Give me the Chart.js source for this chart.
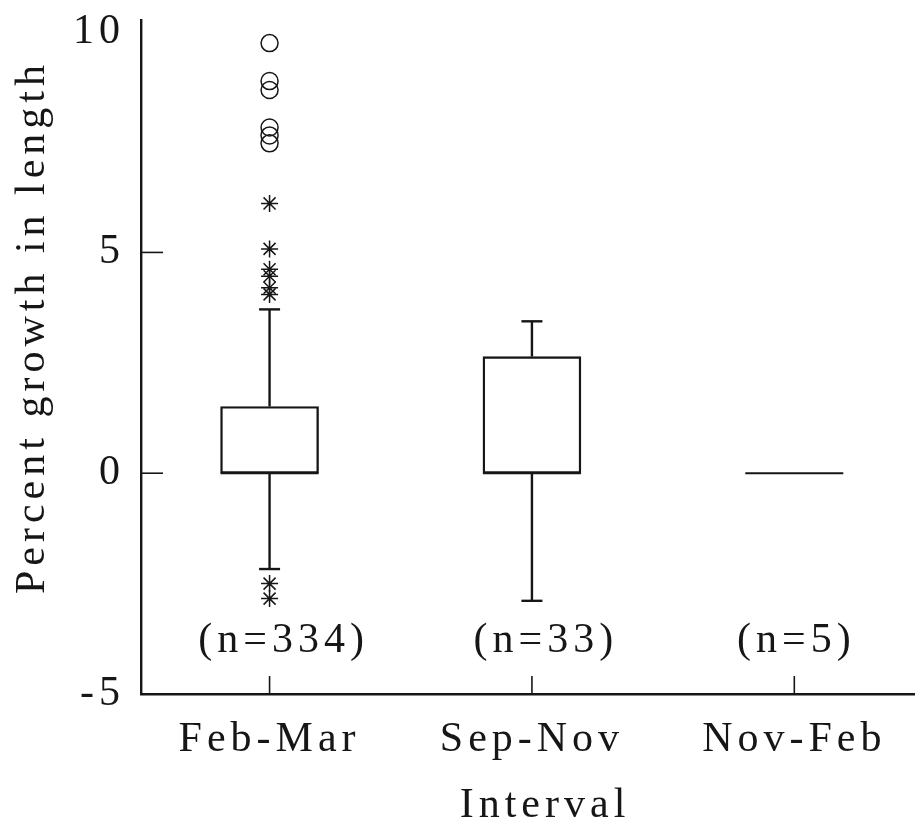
<!DOCTYPE html>
<html lang="en">
<head>
    <meta charset="UTF-8">
    <title>Percent growth in length by interval</title>
    <script src="https://cdn.jsdelivr.net/npm/chart.js"></script>
    <style>
        html, body {
            margin: 0;
            padding: 0;
            background: #ffffff;
            overflow: hidden;
        }
        .chart-container {
            position: relative;
            width: 915px;
            height: 829px;
        }
    </style>
</head>
<body>
    <div class="chart-container">
        <canvas id="growthChart"></canvas>
    </div>
    <script>
        // Categories and sample sizes
        const intervals = ['Feb-Mar', 'Sep-Nov', 'Nov-Feb'];
        const sampleSizes = [334, 33, 5];

        // Box plot statistics (percent growth in length)
        const lowerWhisker = [-2.17, -2.89, 0];
        const lowerQuartile = [0, 0, 0];
        const medians = [0, 0, 0];
        const upperQuartile = [1.51, 2.64, 0];
        const upperWhisker = [3.71, 3.44, 0];

        // Outliers (stars) and extreme values (circles), only in Feb-Mar
        const outliersFebMar = [6.11, 5.08, 4.62, 4.46, 4.20, 4.05, -2.50, -2.84];
        const extremesFebMar = [9.74, 8.88, 8.68, 7.83, 7.65, 7.47];

        const yTicks = [-5, 0, 5, 10];

        const ink = '#161616';
        const serif = { family: "'Liberation Serif', 'Times New Roman', serif", size: 42 };

        // Whiskers, medians, inner tick marks, n labels and axis titles
        const boxPlotExtras = {
            id: 'boxPlotExtras',
            beforeDraw(chart) {
                chart.ctx.letterSpacing = '5px';
            },
            afterDatasetsDraw(chart, args, opts) {
                const { ctx, chartArea, scales: { x, y } } = chart;
                ctx.save();
                ctx.strokeStyle = ink;
                ctx.lineCap = 'butt';

                const seg = (x1, y1, x2, y2, w) => {
                    ctx.lineWidth = w;
                    ctx.beginPath();
                    ctx.moveTo(x1, y1);
                    ctx.lineTo(x2, y2);
                    ctx.stroke();
                };

                intervals.forEach((name, i) => {
                    const cx = x.getPixelForValue(i + 1);
                    const half = opts.boxWidth / 2;
                    const cap = opts.capWidth / 2;

                    if (upperWhisker[i] > upperQuartile[i]) {
                        const yq = y.getPixelForValue(upperQuartile[i]);
                        const yw = y.getPixelForValue(upperWhisker[i]);
                        seg(cx, yq, cx, yw, 2.4);
                        seg(cx - cap, yw, cx + cap, yw, 2.4);
                    }
                    if (lowerWhisker[i] < lowerQuartile[i]) {
                        const yq = y.getPixelForValue(lowerQuartile[i]);
                        const yw = y.getPixelForValue(lowerWhisker[i]);
                        seg(cx, yq, cx, yw, 2.4);
                        seg(cx - cap, yw, cx + cap, yw, 2.4);
                    }
                    const ym = y.getPixelForValue(medians[i]);
                    seg(cx - half, ym, cx + half, ym, 2);

                    // x tick marks point up into the plot
                    seg(cx, chartArea.bottom, cx, chartArea.bottom - opts.xTickLength, 1.6);
                });

                // y tick marks point right into the plot
                yTicks.slice(1, -1).forEach(v => {
                    const py = y.getPixelForValue(v);
                    seg(chartArea.left, py, chartArea.left + opts.yTickLength, py, 1.6);
                });

                // sample sizes
                ctx.letterSpacing = '5px';
                ctx.fillStyle = ink;
                ctx.font = `${serif.size}px ${serif.family}`;
                ctx.textAlign = 'center';
                ctx.textBaseline = 'middle';
                const ny = y.getPixelForValue(opts.nLabelValue);
                sampleSizes.forEach((n, i) => {
                    ctx.fillText(`(n=${n})`, x.getPixelForValue(i + 1) + opts.nLabelShift[i], ny);
                });

                // axis titles
                ctx.fillText('Interval', opts.xTitlePos[0], opts.xTitlePos[1]);
                ctx.translate(opts.yTitlePos[0], opts.yTitlePos[1]);
                ctx.rotate(-Math.PI / 2);
                ctx.fillText('Percent growth in length', 0, 0);
                ctx.restore();
            }
        };

        const ctx = document.getElementById('growthChart').getContext('2d');
        const growthChart = new Chart(ctx, {
            type: 'bar',
            data: {
                datasets: [
                    {
                        label: 'Interquartile range',
                        data: intervals.map((name, i) => ({ x: i + 1, y: [lowerQuartile[i], upperQuartile[i]] })),
                        backgroundColor: '#ffffff',
                        borderColor: ink,
                        borderWidth: 2.4,
                        borderSkipped: false,
                        barThickness: 98
                    },
                    {
                        type: 'scatter',
                        label: 'Extreme values',
                        data: extremesFebMar.map(v => ({ x: 1, y: v })),
                        pointStyle: 'circle',
                        pointRadius: 8.5,
                        pointBorderWidth: 1.5,
                        pointBorderColor: ink,
                        pointBackgroundColor: 'rgba(0,0,0,0)'
                    },
                    {
                        type: 'scatter',
                        label: 'Outliers',
                        data: outliersFebMar.map(v => ({ x: 1, y: v })),
                        pointStyle: 'star',
                        pointRadius: 8.5,
                        pointBorderWidth: 1.5,
                        pointBorderColor: ink,
                        pointBackgroundColor: ink
                    }
                ]
            },
            options: {
                responsive: true,
                maintainAspectRatio: false,
                animation: false,
                layout: {
                    autoPadding: false,
                    padding: { top: 18, right: 0, bottom: 0, left: 0 }
                },
                plugins: {
                    legend: { display: false },
                    tooltip: { enabled: false },
                    boxPlotExtras: {
                        boxWidth: 98,
                        capWidth: 21,
                        xTickLength: 18,
                        yTickLength: 22,
                        nLabelValue: -3.8,
                        nLabelShift: [14, 14, 2],
                        xTitlePos: [545, 806],
                        yTitlePos: [33, 327]
                    }
                },
                scales: {
                    x: {
                        type: 'linear',
                        min: 0.51,
                        max: 3.46,
                        offset: false,
                        grid: { display: false },
                        border: { display: true, color: ink, width: 2.4 },
                        afterBuildTicks: scale => {
                            scale.ticks = intervals.map((name, i) => ({ value: i + 1 }));
                        },
                        afterFit: scale => { scale.height = 135; },
                        ticks: {
                            callback: value => intervals[value - 1],
                            autoSkip: false,
                            maxRotation: 0,
                            padding: 13,
                            color: ink,
                            font: serif
                        }
                    },
                    y: {
                        min: -5,
                        max: 10.25,
                        grid: { display: false },
                        border: { display: true, color: ink, width: 2.4 },
                        afterBuildTicks: scale => {
                            scale.ticks = yTicks.map(v => ({ value: v }));
                        },
                        afterFit: scale => { scale.width = 141; },
                        ticks: {
                            padding: 8,
                            color: ink,
                            font: { ...serif, lineHeight: 0.6 }
                        }
                    }
                }
            },
            plugins: [boxPlotExtras]
        });
    </script>
</body>
</html>
